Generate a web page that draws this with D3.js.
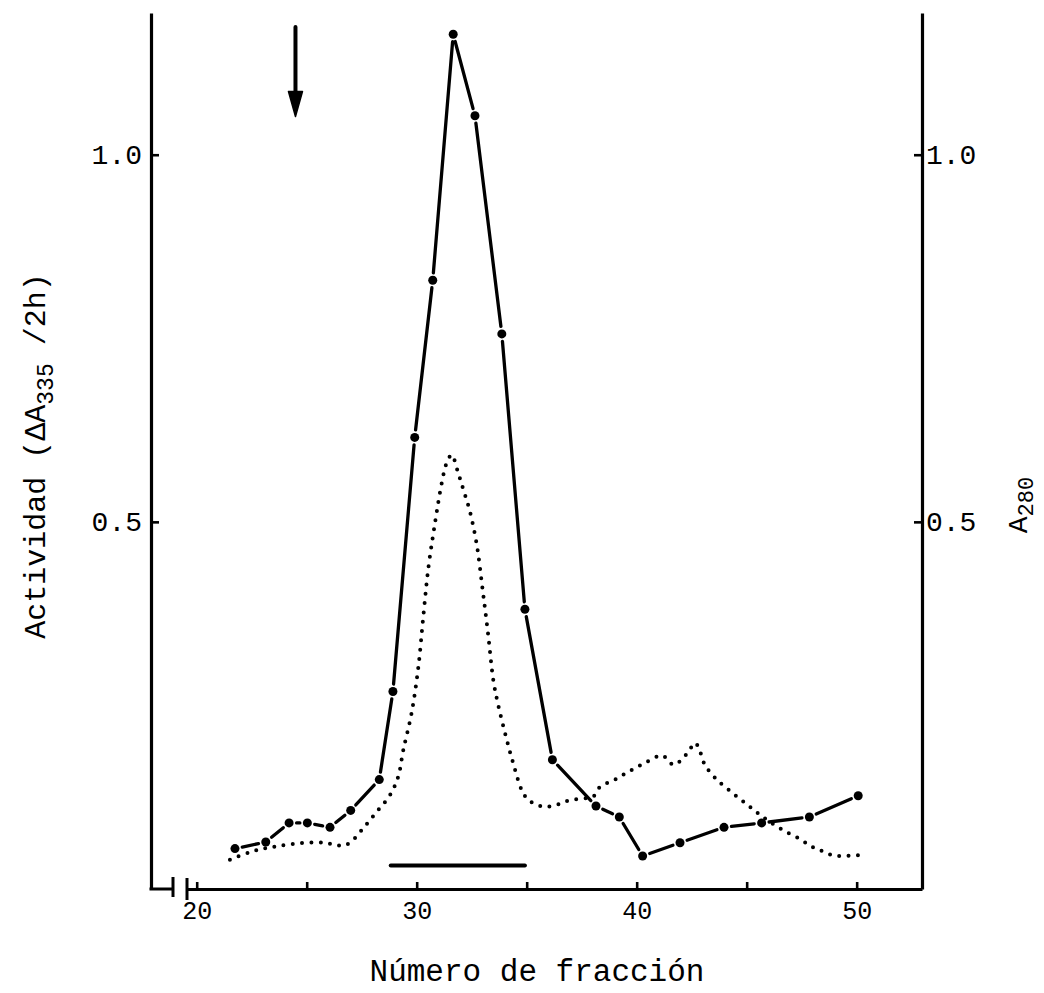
<!DOCTYPE html>
<html>
<head>
<meta charset="utf-8">
<script src="https://cdn.jsdelivr.net/npm/d3@7"></script>
<style>
  body { margin: 0; background: #fff; }
  svg { display: block; }
  text { font-family: "Liberation Mono", "DejaVu Sans Mono", monospace; fill: #000; }
</style>
</head>
<body>
<div id="chart"></div>
<script>
// Actividad (ΔA335/2h) por fracción
const actFraction = [21.74, 23.14, 24.2, 25.03, 26.06, 27.0, 28.3, 28.92, 29.91, 30.73, 31.66, 32.65, 33.87, 34.92, 36.17, 38.15, 39.21, 40.27, 41.97, 43.97, 45.68, 47.85, 50.07];
const actValue = [0.055, 0.064, 0.090, 0.090, 0.084, 0.107, 0.149, 0.269, 0.615, 0.829, 1.164, 1.053, 0.756, 0.381, 0.176, 0.113, 0.098, 0.045, 0.063, 0.084, 0.090, 0.098, 0.127];

// A280 (trazo punteado)
const a280Fraction = [21.51, 22.5, 23.41, 24.55, 25.79, 26.64, 27.0, 27.6, 28.18, 28.79, 29.16, 29.39, 29.77, 30.07, 30.3, 30.53, 30.83, 31.14, 31.36, 31.59, 31.89, 32.12, 32.42, 32.73, 33.0, 33.25, 33.48, 33.68, 34.06, 34.39, 34.77, 35.07, 35.38, 35.75, 36.15, 36.59, 36.97, 37.73, 38.03, 38.33, 39.01, 39.7, 40.45, 41.14, 41.36, 41.66, 41.97, 42.35, 42.66, 42.88, 43.1, 43.64, 44.39, 45.15, 45.83, 46.66, 47.42, 47.88, 48.33, 48.79, 49.24, 50.07];
const a280Value = [0.040, 0.051, 0.057, 0.062, 0.063, 0.059, 0.064, 0.084, 0.105, 0.128, 0.153, 0.189, 0.240, 0.301, 0.371, 0.437, 0.498, 0.553, 0.580, 0.591, 0.566, 0.544, 0.514, 0.469, 0.407, 0.346, 0.285, 0.254, 0.207, 0.171, 0.135, 0.121, 0.116, 0.112, 0.113, 0.117, 0.121, 0.124, 0.126, 0.139, 0.149, 0.161, 0.173, 0.182, 0.178, 0.169, 0.174, 0.187, 0.199, 0.187, 0.169, 0.149, 0.130, 0.112, 0.096, 0.080, 0.068, 0.059, 0.053, 0.047, 0.045, 0.046];

// ticks
const xTicks = [20, 25, 30, 35, 40, 45, 50];
const xTickLabels = ["20", "", "30", "", "40", "", "50"];
const yTicks = [0.5, 1.0];

// fracciones reunidas (barra) y flecha
const pooledRange = [28.82, 34.92];
const pooledLevel = 0.032;
const arrowFraction = 24.49;
const arrowFrom = 1.174;
const arrowTo = 1.052;

// layout
const width = 1044;
const height = 993;
const leftAxisX = 151;
const rightAxisX = 922;
const bottomY = 889;
const topY = 13;
const breakStart = 173;
const breakEnd = 187;

const x = d3.scaleLinear()
    .domain([19.559, 52.97])
    .range([breakEnd, rightAxisX]);

const y = d3.scaleLinear()
    .domain([0, 1.193])
    .range([bottomY, topY]);

const svg = d3.select("#chart").append("svg")
    .attr("width", width)
    .attr("height", height)
    .attr("viewBox", [0, 0, width, height]);

// Left axis
const gLeft = svg.append("g")
    .attr("transform", `translate(${leftAxisX},0)`)
    .call(d3.axisLeft(y).tickValues(yTicks).tickFormat(d3.format(".1f"))
        .tickSize(-8).tickSizeOuter(0).tickPadding(9));

// Right axis
const gRight = svg.append("g")
    .attr("transform", `translate(${rightAxisX},0)`)
    .call(d3.axisRight(y).tickValues(yTicks).tickFormat(d3.format(".1f"))
        .tickSize(-8).tickSizeOuter(0).tickPadding(4));

[gLeft, gRight].forEach(g => {
    g.select(".domain").attr("stroke", "#000").attr("stroke-width", 3.2);
    g.selectAll(".tick line").attr("stroke", "#000").attr("stroke-width", 2.6);
    g.selectAll(".tick text")
        .attr("font-family", "Liberation Mono, monospace")
        .attr("font-size", 28);
});

// Bottom axis
const gBottom = svg.append("g")
    .attr("transform", `translate(0,${bottomY})`)
    .call(d3.axisBottom(x).tickValues(xTicks).tickFormat((d, i) => xTickLabels[i])
        .tickSize(-7).tickSizeOuter(0).tickPadding(12));
gBottom.select(".domain").attr("stroke", "#000").attr("stroke-width", 3);
gBottom.selectAll(".tick line").attr("stroke", "#000").attr("stroke-width", 2.6);
gBottom.selectAll(".tick text")
    .attr("font-family", "Liberation Sans, Arial, sans-serif")
    .attr("font-size", 25);

// axis break
svg.append("line")
    .attr("x1", leftAxisX - 1.5).attr("x2", breakStart)
    .attr("y1", bottomY).attr("y2", bottomY)
    .attr("stroke", "#000").attr("stroke-width", 3);
svg.append("line")
    .attr("x1", breakStart).attr("x2", breakStart)
    .attr("y1", bottomY - 12).attr("y2", bottomY + 8)
    .attr("stroke", "#000").attr("stroke-width", 3);
svg.append("line")
    .attr("x1", breakEnd).attr("x2", breakEnd)
    .attr("y1", bottomY - 11).attr("y2", bottomY + 11)
    .attr("stroke", "#000").attr("stroke-width", 3);

// A280 dotted trace
const a280 = a280Fraction.map((f, i) => [f, a280Value[i]]);
svg.append("path")
    .datum(a280)
    .attr("fill", "none")
    .attr("stroke", "#000")
    .attr("stroke-width", 4)
    .attr("stroke-linecap", "round")
    .attr("stroke-dasharray", "0 9.3")
    .attr("d", d3.line()
        .x(d => x(d[0]))
        .y(d => y(d[1]))
        .curve(d3.curveCatmullRom.alpha(0.5)));

// Activity: segments broken at each point, with filled dots
const act = actFraction.map((f, i) => [x(f), y(actValue[i])]);
const gap = 7.5;
const segs = d3.pairs(act).map(([a, b]) => {
    const dx = b[0] - a[0], dy = b[1] - a[1];
    const len = Math.hypot(dx, dy);
    const ux = dx / len, uy = dy / len;
    return [[a[0] + ux * gap, a[1] + uy * gap], [b[0] - ux * gap, b[1] - uy * gap], len];
}).filter(s => s[2] > gap * 2 + 2);

svg.append("g")
    .attr("stroke", "#000")
    .attr("stroke-width", 3.3)
    .attr("stroke-linecap", "round")
  .selectAll("line")
  .data(segs)
  .join("line")
    .attr("x1", d => d[0][0]).attr("y1", d => d[0][1])
    .attr("x2", d => d[1][0]).attr("y2", d => d[1][1]);

svg.append("g")
    .attr("fill", "#000")
  .selectAll("circle")
  .data(act)
  .join("circle")
    .attr("cx", d => d[0])
    .attr("cy", d => d[1])
    .attr("r", 4.5);

// pooled fractions bar
svg.append("line")
    .attr("x1", x(pooledRange[0])).attr("x2", x(pooledRange[1]))
    .attr("y1", y(pooledLevel)).attr("y2", y(pooledLevel))
    .attr("stroke", "#000").attr("stroke-width", 4).attr("stroke-linecap", "round");

// arrow
const ax = x(arrowFraction);
svg.append("line")
    .attr("x1", ax).attr("x2", ax)
    .attr("y1", y(arrowFrom)).attr("y2", y(arrowTo) - 10)
    .attr("stroke", "#000").attr("stroke-width", 4).attr("stroke-linecap", "round");
svg.append("path")
    .attr("d", `M${ax - 7},${y(arrowTo) - 25} L${ax + 7},${y(arrowTo) - 25} L${ax},${y(arrowTo)} Z`)
    .attr("fill", "#000")
    .attr("stroke", "#000")
    .attr("stroke-width", 1.5)
    .attr("stroke-linejoin", "round");

// axis titles
svg.append("text")
    .attr("x", 537)
    .attr("y", 981)
    .attr("text-anchor", "middle")
    .attr("font-size", 31)
    .text("Número de fracción");

const yLabel = svg.append("text")
    .attr("transform", "translate(45,456) rotate(-90)")
    .attr("text-anchor", "middle")
    .attr("font-size", 30);
yLabel.append("tspan").text("Actividad (ΔA");
yLabel.append("tspan").attr("font-size", 23).attr("dy", 8).text("335");
yLabel.append("tspan").attr("dy", -8).text(" /2h)");

const rLabel = svg.append("text")
    .attr("transform", "translate(1027,505) rotate(-90)")
    .attr("text-anchor", "middle")
    .attr("font-size", 28);
rLabel.append("tspan").text("A");
rLabel.append("tspan").attr("font-size", 22).attr("dy", 6).text("280");
</script>
</body>
</html>
